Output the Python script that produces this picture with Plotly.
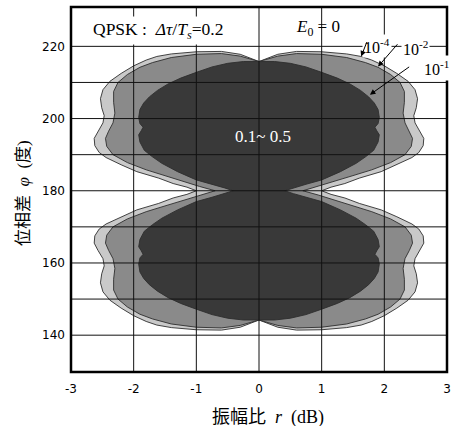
import plotly.graph_objects as go

# ---- data (right half of the upper lobe, from the top centre
#      clockwise down to the point where the contour meets phi = 180 deg) ----
LIGHT_R = [0.0, 0.3, 0.6, 1.0, 1.4, 1.63, 1.8, 2.0, 2.2, 2.38, 2.49, 2.53, 2.51, 2.47, 2.49,
           2.57, 2.63, 2.62, 2.55, 2.44, 2.2, 1.95, 1.6, 1.37, 1.15, 1.0]
LIGHT_PHI = [215.8, 217.8, 218.6, 218.5, 217.9, 217.2, 216.2, 214.6, 212.5, 210.3, 208.0, 205.5,
             203.0, 200.8, 198.8, 196.5, 194.5, 192.5, 190.6, 189.2, 187.2, 185.3, 183.5, 182.0,
             181.0, 180.0]

MED_R = [0.0, 0.3, 0.6, 1.0, 1.4, 1.7, 1.9, 2.1, 2.25, 2.32, 2.32, 2.3, 2.33, 2.4, 2.45, 2.43,
         2.33, 2.1, 1.8, 1.5, 1.2, 0.95, 0.7]
MED_PHI = [215.8, 217.3, 218.0, 217.8, 216.9, 215.5, 214.2, 212.2, 210.0, 207.5, 204.5, 201.5,
           198.8, 196.5, 194.5, 192.3, 190.0, 187.8, 185.8, 184.2, 182.6, 181.2, 180.0]

DARK_R = [0.0, 0.25, 0.5, 0.75, 1.0, 1.25, 1.45, 1.62, 1.75, 1.84, 1.9, 1.92, 1.9, 1.85, 1.88,
          1.92, 1.9, 1.83, 1.7, 1.55, 1.3, 1.0, 0.75, 0.55, 0.41]
DARK_PHI = [215.8, 215.8, 215.3, 214.3, 212.8, 211.2, 209.6, 207.8, 206.0, 204.3, 202.5, 200.3,
            198.6, 197.6, 196.6, 195.5, 193.5, 191.2, 189.4, 187.6, 185.3, 183.0, 181.8, 180.8,
            180.0]

X_TICKS = [-3, -2, -1, 0, 1, 2, 3]
X_TICK_LABELS = ["-3", "-2", "-1", "0", "1", "2", "3"]
Y_TICKS = [140, 160, 180, 200, 220]
Y_TICK_LABELS = ["140", "160", "180", "200", "220"]
X_GRID = [-2, -1, 0, 1, 2]
Y_GRID = [140, 150, 160, 170, 180, 190, 200, 210, 220]

LEVEL_LABELS = ["10<sup>-4</sup>", "10<sup>-2</sup>", "10<sup>-1</sup>"]
CENTER_LABEL = "0.1~ 0.5"
X_TITLE = "振幅比  <i>r</i>  (dB)"
Y_TITLE = "位相差  <i>φ</i>  (度)"
PHI_MIRROR = 180.0


def butterfly(rq, pq):
    """Complete closed contour from the upper-right quarter using the chart's symmetry."""
    ur = list(zip(rq, pq))
    lr = [(r, 2 * PHI_MIRROR - p) for r, p in reversed(ur)]
    right = ur + lr[1:]
    left = [(-r, p) for r, p in reversed(right)]
    full = right + left[1:]
    return [p[0] for p in full], [p[1] for p in full]


fig = go.Figure()
for (rq, pq), fill in [((LIGHT_R, LIGHT_PHI), "#c9c9c9"),
                       ((MED_R, MED_PHI), "#8a8a8a"),
                       ((DARK_R, DARK_PHI), "#393939")]:
    xs, ys = butterfly(rq, pq)
    fig.add_trace(go.Scatter(x=xs, y=ys, mode="lines", fill="toself", fillcolor=fill,
                             line=dict(color="#2e2e2e", width=0.9), hoverinfo="skip",
                             showlegend=False))

shapes = []
for gx in X_GRID:
    shapes.append(dict(type="line", xref="x", yref="paper", x0=gx, x1=gx, y0=0, y1=1,
                       line=dict(color="#111", width=1), layer="above"))
for gy in Y_GRID:
    shapes.append(dict(type="line", xref="paper", yref="y", x0=0, x1=1, y0=gy, y1=gy,
                       line=dict(color="#111", width=1), layer="above"))
shapes.append(dict(type="rect", xref="paper", yref="paper", x0=0, x1=1, y0=0, y1=1,
                   line=dict(color="black", width=2.5), layer="above"))

serif = "Liberation Serif, Noto Sans CJK JP"
ann = []
ann.append(dict(x=-1.61, y=224.4, xref="x", yref="y", showarrow=False,
                text="QPSK :  <i>Δτ</i>/<i>T<sub>s</sub></i>=0.2",
                font=dict(family=serif, size=17.5, color="black"), bgcolor="white", borderpad=2))
ann.append(dict(x=0.94, y=225.0, xref="x", yref="y", showarrow=False,
                text="<i>E</i><sub>0</sub> = 0",
                font=dict(family=serif, size=17, color="black")))
ann.append(dict(x=1.88, y=220.2, xref="x", yref="y", showarrow=False, text=LEVEL_LABELS[0],
                font=dict(family=serif, size=16, color="black"), bgcolor="white", borderpad=1))
ann.append(dict(x=2.49, y=219.6, xref="x", yref="y", showarrow=False, text=LEVEL_LABELS[1],
                font=dict(family=serif, size=16, color="black"), bgcolor="white", borderpad=1))
ann.append(dict(x=2.84, y=214.1, xref="x", yref="y", showarrow=False, text=LEVEL_LABELS[2],
                font=dict(family=serif, size=16, color="black"), bgcolor="white", borderpad=2))
ann.append(dict(x=0.06, y=195.1, xref="x", yref="y", showarrow=False, text=CENTER_LABEL,
                font=dict(family=serif, size=17, color="white")))
# axis titles
ann.append(dict(x=0.525, y=-0.126, xref="paper", yref="paper", showarrow=False,
                xanchor="center", yanchor="middle", text=X_TITLE,
                font=dict(family=serif, size=18, color="black")))
ann.append(dict(x=-0.128, y=0.49, xref="paper", yref="paper", showarrow=False,
                xanchor="center", yanchor="middle", textangle=-90, text=Y_TITLE,
                font=dict(family=serif, size=17, color="black")))
# arrows: head on the contour, tail near the label
for hx, hy, tx, ty in [(1.63, 217.2, 1.73, 221.6),
                       (1.90, 214.4, 2.23, 221.0),
                       (1.77, 206.6, 2.42, 214.6)]:
    ann.append(dict(x=hx, y=hy, ax=tx, ay=ty, xref="x", yref="y", axref="x", ayref="y",
                    text="", showarrow=True, arrowhead=2, arrowsize=1.1, arrowwidth=1,
                    arrowcolor="black"))

fig.update_layout(
    width=455, height=426,
    margin=dict(l=71, r=8, t=7, b=54),
    paper_bgcolor="white", plot_bgcolor="white",
    shapes=shapes, annotations=ann,
    xaxis=dict(range=[-3, 3], tickvals=X_TICKS, ticktext=X_TICK_LABELS, showgrid=False,
               zeroline=False, showline=False, ticks="", ticklabelstandoff=8,
               tickfont=dict(family="DejaVu Sans", size=12, color="black"),
               automargin=False),
    yaxis=dict(range=[129.8, 230.9], tickvals=Y_TICKS, ticktext=Y_TICK_LABELS, showgrid=False,
               zeroline=False, showline=False, ticks="", ticklabelstandoff=5,
               tickfont=dict(family="DejaVu Sans", size=12, color="black"),
               automargin=False),
)

fig.write_html("out.html", config={"displayModeBar": False},
               post_script="document.body.style.margin='0';document.body.style.overflow='hidden';")
